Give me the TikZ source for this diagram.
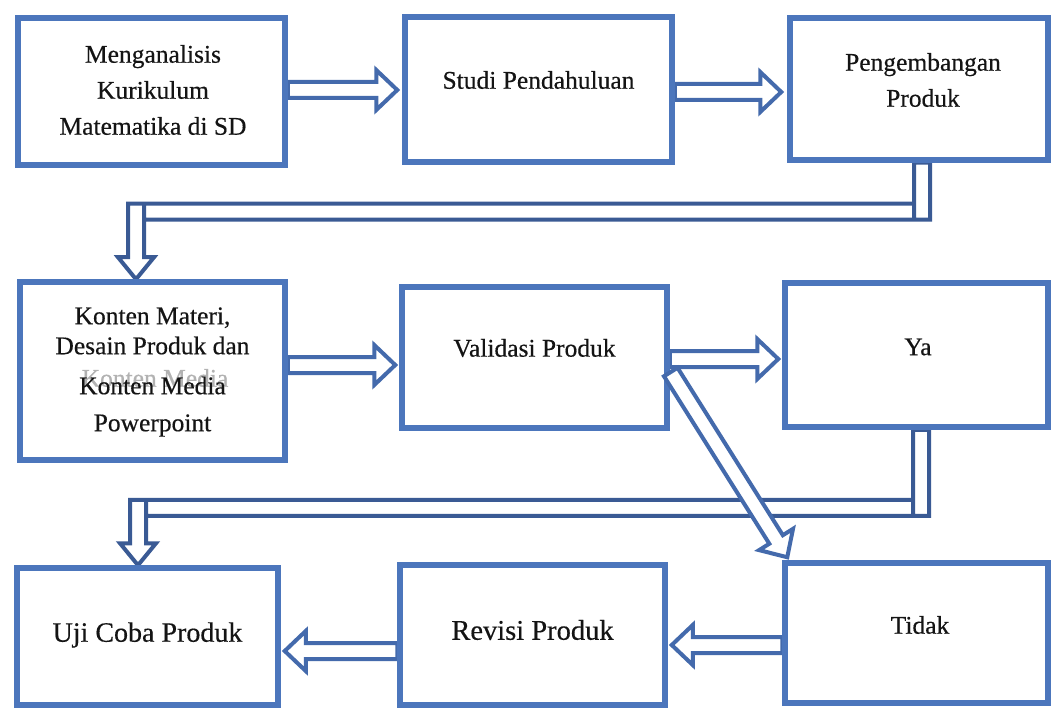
\documentclass[tikz,border=0pt]{standalone}
\usepackage{fontspec}
\setmainfont{Liberation Serif}[FakeBold=0.4]
\usetikzlibrary{calc}
\pgfdeclarelayer{bg}
\pgfdeclarelayer{paper}
\pgfsetlayers{paper,bg,main}
\definecolor{boxblue}{RGB}{76,118,188}
\definecolor{arrblue}{RGB}{68,106,172}
\definecolor{barblue}{RGB}{58,90,148}
\definecolor{txtcol}{RGB}{20,20,20}
\tikzset{
  box/.style={draw=boxblue, line width=5.5pt, fill=white, inner sep=0pt},
  txt/.style={align=center, text=txtcol, inner sep=0pt, font=\fontsize{25.5}{36}\selectfont},
  ghost/.style={text=black!30, inner sep=0pt, font=\fontsize{25.5}{36}\selectfont},
  hollow/.style={draw=arrblue, line width=4pt, fill=white, line join=miter},
  hollowbar/.style={draw=barblue, line width=4pt, fill=white, line join=miter},
}
% #1 style, #2 tail, #3 tip
\newcommand{\hollowarrow}[3][hollow]{%
  \coordinate (ha) at (#2);
  \coordinate (hz) at (#3);
  \coordinate (hb) at ($(hz)!21pt!(ha)$);
  \draw[#1] ($(ha)!8pt!90:(hz)$) -- ($(hb)!8pt!-90:(ha)$) -- ($(hb)!20pt!-90:(ha)$)
    -- (hz) -- ($(hb)!20pt!90:(ha)$) -- ($(hb)!8pt!90:(ha)$) -- ($(ha)!8pt!-90:(hz)$) -- cycle;
}
\begin{document}
\begin{tikzpicture}[x=1pt,y=-1pt]
\useasboundingbox (0,0) rectangle (1051,708);
\begin{pgfonlayer}{paper}
\fill[white] (0,0) rectangle (1051,708);
\end{pgfonlayer}

% boxes
\node[box, minimum width=267pt, minimum height=147pt] (b1) at (151.5,91.5) {};
\node[box, minimum width=267pt, minimum height=145pt] (b2) at (538.5,89.5) {};
\node[box, minimum width=258pt, minimum height=142pt] (b3) at (919,89) {};
\node[box, minimum width=265pt, minimum height=178pt] (b4) at (152.5,371) {};
\node[box, minimum width=265pt, minimum height=141pt] (b5) at (534.5,357.5) {};
\node[box, minimum width=263pt, minimum height=144pt] (b6) at (916.5,355) {};
\node[box, minimum width=261pt, minimum height=137pt] (b7) at (147.5,636.5) {};
\node[box, minimum width=265pt, minimum height=140pt] (b8) at (532.5,635) {};
\node[box, minimum width=263pt, minimum height=140pt] (b9) at (916.5,633) {};

% texts
\node[txt] (t1) at ($(b1.center)+(1.5,-1.5)$) {Menganalisis\\Kurikulum\\Matematika di SD};
\node[txt] (t2) at ($(b2.center)+(0,-9.5)$) {Studi Pendahuluan};
\node[txt] (t3) at ($(b3.center)+(4,-9)$) {Pengembangan\\Produk};
\node[ghost] (t4g) at ($(b4.center)+(2.5,7)$) {Konten Media};
\node[txt] (t4) at ($(b4.center)+(0,1)$) {Konten Materi,\\[-6pt]Desain Produk dan\\[4pt]Konten Media\\[1pt]Powerpoint};
\node[txt] (t5) at ($(b5.center)+(0,-9.5)$) {Validasi Produk};
\node[txt] (t6) at ($(b6.center)+(1.5,-8)$) {Ya};
\node[txt, font=\fontsize{28}{34}\selectfont] (t7) at ($(b7.center)+(0,-1.5)$) {Uji Coba Produk};
\node[txt, font=\fontsize{28.5}{34}\selectfont] (t8) at ($(b8.center)+(0,-5)$) {Revisi Produk};
\node[txt] (t9) at ($(b9.center)+(3.5,-8)$) {Tidak};

\begin{pgfonlayer}{bg}
% straight hollow arrows
\hollowarrow{$(b1.east)+(0,-1.5)$}{$(b2.west)+(-5,0.5)$}
\hollowarrow{$(b2.east)+(0,2.5)$}{$(b3.west)+(-6,3)$}
\hollowarrow{$(b4.east)+(0,-6)$}{$(b5.west)+(-4,7.5)$}
\hollowarrow{$(b5.east)+(0,1.5)$}{$(b6.west)+(-4,4)$}
\hollowarrow{$(b9.west)+(0,12)$}{$(b8.east)+(4,10)$}
\hollowarrow{$(b8.west)+(0,16)$}{$(b7.east)+(4,14.5)$}

% bent arrow: Pengembangan Produk -> Konten Materi
\coordinate (c1s) at ($(b3.south)+(3,0)$);
\coordinate (c1t) at ($(b4.north)+(-16.5,0)$);
\coordinate (c1m) at ($(b3.south)+(0,49)$);
\draw[hollowbar] let \p1=(c1s), \p2=(c1t), \p3=(c1m) in
  (\x1-8pt,\y1) -- (\x1-8pt,\y3+8pt) -- (\x2-8pt,\y3+8pt) -- (\x2-8pt,\y2+22pt)
  -- (\x2-18pt,\y2+22pt) -- (\x2,\y2) -- (\x2+18pt,\y2+22pt) -- (\x2+8pt,\y2+22pt)
  -- (\x2+8pt,\y3-8pt) -- (\x1+8pt,\y3-8pt) -- (\x1+8pt,\y1) -- cycle
  (\x2+8pt,\y3+8pt) -- (\x2+8pt,\y3-8pt)
  (\x1-8pt,\y3+8pt) -- (\x1-8pt,\y3-8pt);

% bent arrow: Ya -> Uji Coba Produk
\coordinate (c2s) at ($(b6.south)+(4.5,0)$);
\coordinate (c2t) at ($(b7.north)+(-9.5,0)$);
\coordinate (c2m) at ($(b6.south)+(0,78)$);
\draw[hollowbar] let \p1=(c2s), \p2=(c2t), \p3=(c2m) in
  (\x1-8pt,\y1) -- (\x1-8pt,\y3+8pt) -- (\x2-8pt,\y3+8pt) -- (\x2-8pt,\y2+22pt)
  -- (\x2-18pt,\y2+22pt) -- (\x2,\y2) -- (\x2+18pt,\y2+22pt) -- (\x2+8pt,\y2+22pt)
  -- (\x2+8pt,\y3-8pt) -- (\x1+8pt,\y3-8pt) -- (\x1+8pt,\y1) -- cycle
  (\x2+8pt,\y3+8pt) -- (\x2+8pt,\y3-8pt)
  (\x1-8pt,\y3+8pt) -- (\x1-8pt,\y3-8pt);
\end{pgfonlayer}

% diagonal arrow: Validasi Produk -> Tidak (on top)
\hollowarrow{$(b5.east)+(1,14.5)$}{$(b9.north west)+(5,-3)$}
\end{tikzpicture}
\end{document}
